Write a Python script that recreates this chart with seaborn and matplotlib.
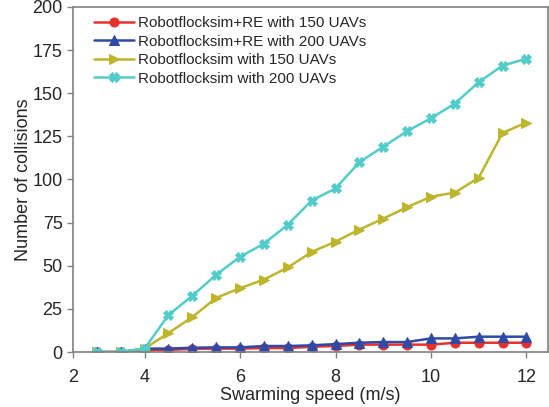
import numpy as np
import pandas as pd
import matplotlib
matplotlib.use("Agg")
import matplotlib.pyplot as plt
import seaborn as sns

speed = [3, 3.5, 4, 4.5, 5, 5.5, 6, 6.5, 7, 7.5, 8, 8.5, 9, 9.5, 10, 10.5, 11, 11.5, 12]
re_150 = [0, 0, 1, 1.2, 1.9, 2, 2, 2.3, 2.3, 3.1, 3.5, 4.3, 4.3, 4.3, 4.3, 5.4, 5.4, 5.4, 5.4]
re_200 = [0, 0, 2, 2, 2.5, 2.7, 2.7, 3.5, 3.5, 3.9, 4.6, 5.4, 5.8, 5.8, 7.9, 7.9, 8.9, 8.9, 8.9]
rf_150 = [0, 0, 2, 11, 20.3, 31.4, 37, 42, 49, 58, 64, 71, 77.3, 84, 90, 92.4, 101, 127, 133]
rf_200 = [0, 0, 2, 21.5, 32.6, 44.8, 55.2, 62.8, 73.8, 87.8, 94.8, 110, 119, 128, 135.5, 144, 156.4, 166, 170]

labels = ["Robotflocksim+RE with 150 UAVs", "Robotflocksim+RE with 200 UAVs",
          "Robotflocksim with 150 UAVs", "Robotflocksim with 200 UAVs"]
series = [re_150, re_200, rf_150, rf_200]
colors = ["#e8302a", "#2f4aa6", "#bdb52c", "#52cccb"]
markers = ["o", "^", ">", "X"]

xtick_pos = [2.5, 4, 6, 8, 10, 12]
xtick_labels = ["2", "4", "6", "8", "10", "12"]
yticks = [0, 25, 50, 75, 100, 125, 150, 175, 200]

sns.set_style("ticks")
plt.rcParams['font.family'] = ['Liberation Sans', 'DejaVu Sans']

fig = plt.figure(figsize=(5.49, 4.07), dpi=100)
ax = fig.add_axes([0.133, 0.135, 0.865, 0.848])

for lab, vals, c, m in zip(labels, series, colors, markers):
    df = pd.DataFrame({"speed": speed, "collisions": vals})
    sns.lineplot(data=df, x="speed", y="collisions", ax=ax, color=c, marker=m,
                 markersize=6.5, linewidth=1.8, markeredgecolor=c, label=lab)

ax.set_xlim(2.5, 12.45)
ax.set_ylim(0, 200)
ax.set_xticks(xtick_pos)
ax.set_xticklabels(xtick_labels)
ax.set_yticks(yticks)
ax.tick_params(axis='both', labelsize=13, direction='out', length=4, color='#808080', width=1)
ax.tick_params(axis='x', pad=8)
ax.set_xlabel("Swarming speed (m/s)", fontsize=13, labelpad=1)
ax.set_ylabel("Number of collisions", fontsize=13, labelpad=0)
for s in ax.spines.values():
    s.set_color('#808080')
    s.set_linewidth(1.2)
    s.set_visible(True)

leg = ax.legend(loc='upper left', frameon=False, fontsize=11, handlelength=2.6,
                borderaxespad=0.2, labelspacing=0.3, handletextpad=0.3,
                bbox_to_anchor=(0.025, 1.0))

fig.savefig("out.png", dpi=100)
